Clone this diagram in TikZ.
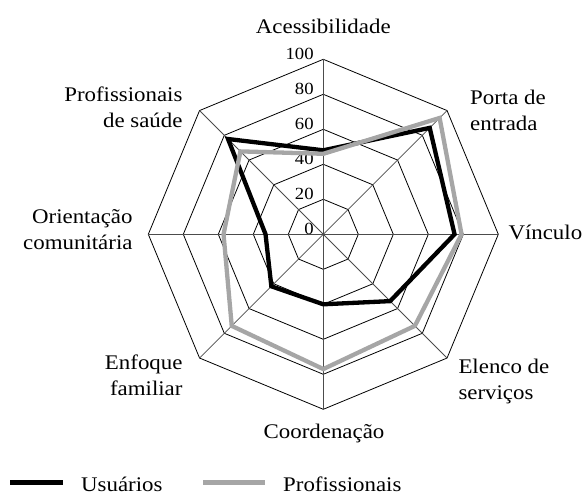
\documentclass[tikz,border=0pt]{standalone}
\usepackage{fontspec}
\setmainfont[FakeStretch=1.1]{Liberation Serif}
\definecolor{profgray}{RGB}{166,166,166}
\tikzset{
  ring/.style={draw=black, line width=0.8pt, line join=miter},
  axisline/.style={draw=black!70, line width=0.8pt},
  users/.style={draw=black, line width=4.3pt, line join=miter, miter limit=6},
  profs/.style={draw=profgray, line width=4.3pt, line join=miter, miter limit=6},
  lbl/.style={font=\fontsize{20.8}{26}\selectfont, inner sep=0pt},
  ticklbl/.style={font=\fontsize{17}{20}\selectfont, inner sep=0pt, anchor=base east},
}
\begin{document}
\begin{tikzpicture}[x=1pt,y=1pt]
\useasboundingbox (0,0) rectangle (585,495);
\coordinate (O) at (323.3,260.7);
\begin{scope}[shift={(O)}]
  % rings
  \foreach \r in {1,...,5} {
    \draw[ring] (90:\r*35) -- (45:\r*35) -- (0:\r*35) -- (-45:\r*35) -- (-90:\r*35)
      -- (-135:\r*35) -- (180:\r*35) -- (135:\r*35) -- cycle;
  }
  % axes
  \foreach \a/\n in {90/ax1,45/ax2,0/ax3,-45/ax4,-90/ax5,-135/ax6,180/ax7,135/ax8} {
    \coordinate (\n) at (\a:175);
    \draw[axisline] (0,0) -- (\n);
  }
  % tick labels
  \foreach \v in {0,20,40,60,80,100} {
    \node[ticklbl] (t\v) at (-9.5,\v*1.75) {\v};
  }
  % data: usuarios
  \coordinate (u1) at (90:48*1.75);
  \coordinate (u2) at (45:86*1.75);
  \coordinate (u3) at (0:75*1.75);
  \coordinate (u4) at (-45:54*1.75);
  \coordinate (u5) at (-90:40*1.75);
  \coordinate (u6) at (-135:42*1.75);
  \coordinate (u7) at (180:33*1.75);
  \coordinate (u8) at (135:77*1.75);
  % data: profissionais
  \coordinate (p1) at (90:46*1.75);
  \coordinate (p2) at (45:94*1.75);
  \coordinate (p3) at (0:79*1.75);
  \coordinate (p4) at (-45:74*1.75);
  \coordinate (p5) at (-90:77*1.75);
  \coordinate (p6) at (-135:74*1.75);
  \coordinate (p7) at (180:57*1.75);
  \coordinate (p8) at (135:67*1.75);
  \draw[users] (u1) -- (u2) -- (u3) -- (u4) -- (u5) -- (u6) -- (u7) -- (u8) -- cycle;
  \draw[profs] (p1) -- (p2) -- (p3) -- (p4) -- (p5) -- (p6) -- (p7) -- (p8) -- cycle;
\end{scope}
% axis labels (base anchor = baseline of last line)
\node[lbl, anchor=base] (acc) at (323.3,461.7) {Acessibilidade};
\node[lbl, anchor=base west, align=left] (porta) at (470,364.5) {Porta de\\entrada};
\node[lbl, anchor=base west] (vinc) at (508.3,255) {Vínculo};
\node[lbl, anchor=base west, align=left] (elenco) at (458.3,96) {Elenco de\\serviços};
\node[lbl, anchor=base] (coord) at (324,56.7) {Coordenação};
\node[lbl, anchor=base east, align=right] (enf) at (182.7,100) {Enfoque\\familiar};
\node[lbl, anchor=base east, align=right] (ori) at (132.7,245) {Orientação\\comunitária};
\node[lbl, anchor=base east, align=right] (prof) at (182.7,367.7) {Profissionais\\de saúde};
% legend
\coordinate (lu1) at (10,12.5);
\coordinate (lu2) at (63,12.5);
\coordinate (lp1) at (203,12.5);
\coordinate (lp2) at (265,12.5);
\draw[users] (lu1) -- (lu2);
\draw[profs] (lp1) -- (lp2);
\node[lbl, anchor=base west] (lu) at (81,4) {Usuários};
\node[lbl, anchor=base west] (lp) at (283,4) {Profissionais};
\end{tikzpicture}
\end{document}
